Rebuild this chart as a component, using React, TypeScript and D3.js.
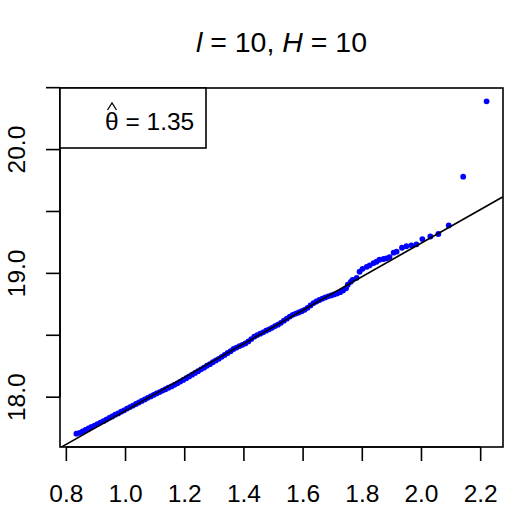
import React from "react";
import * as d3 from "d3";

const xVals = [
  0.834, 0.845, 0.855, 0.865, 0.875, 0.885, 0.895, 0.905, 0.915, 0.925,
  0.935, 0.945, 0.955, 0.965, 0.975, 0.985, 0.995, 1.005, 1.015, 1.025,
  1.035, 1.045, 1.055, 1.065, 1.075, 1.085, 1.095, 1.105, 1.115, 1.125,
  1.135, 1.145, 1.155, 1.165, 1.175, 1.185, 1.195, 1.205, 1.215, 1.225,
  1.235, 1.245, 1.255, 1.265, 1.275, 1.285, 1.295, 1.305, 1.315, 1.325,
  1.335, 1.345, 1.355, 1.365, 1.375, 1.385, 1.395, 1.405, 1.415, 1.425,
  1.435, 1.445, 1.455, 1.465, 1.475, 1.485, 1.495, 1.505, 1.515, 1.525,
  1.535, 1.545, 1.555, 1.565, 1.575, 1.585, 1.595, 1.605, 1.615, 1.625,
  1.635, 1.645, 1.655, 1.665, 1.675, 1.685, 1.695, 1.705, 1.715, 1.725,
  1.735, 1.745,
  1.751, 1.761, 1.767, 1.781, 1.791, 1.801, 1.815, 1.825, 1.838, 1.848,
  1.858, 1.872, 1.882, 1.892, 1.906, 1.916, 1.934, 1.949, 1.966, 1.983,
  2.003, 2.030, 2.057, 2.092, 2.141, 2.220,
];

const yVals = [
  17.705, 17.712, 17.724, 17.735, 17.747, 17.759, 17.771, 17.783, 17.795, 17.806,
  17.819, 17.833, 17.844, 17.859, 17.869, 17.883, 17.894, 17.908, 17.920, 17.932,
  17.945, 17.957, 17.970, 17.982, 17.995, 18.006, 18.018, 18.030, 18.041, 18.053,
  18.064, 18.076, 18.087, 18.100, 18.112, 18.126, 18.139, 18.153, 18.168, 18.182,
  18.196, 18.210, 18.225, 18.238, 18.254, 18.267, 18.282, 18.297, 18.310, 18.326,
  18.341, 18.357, 18.372, 18.389, 18.401, 18.413, 18.423, 18.434, 18.450, 18.469,
  18.489, 18.502, 18.513, 18.524, 18.537, 18.548, 18.560, 18.574, 18.586, 18.601,
  18.618, 18.634, 18.651, 18.665, 18.675, 18.684, 18.694, 18.706, 18.722, 18.741,
  18.760, 18.773, 18.785, 18.796, 18.806, 18.815, 18.822, 18.830, 18.838, 18.848,
  18.861, 18.879,
  18.908, 18.932, 18.948, 18.964, 19.013, 19.037, 19.053, 19.065, 19.083, 19.094,
  19.110, 19.116, 19.122, 19.132, 19.167, 19.175, 19.207, 19.219, 19.227, 19.235,
  19.277, 19.298, 19.318, 19.387, 19.781, 20.390,
];

const xTicks = [0.8, 1.0, 1.2, 1.4, 1.6, 1.8, 2.0, 2.2];
const yTicks = [18.0, 18.5, 19.0, 19.5, 20.0, 20.5];
const yTickLabels = ["18.0", "", "19.0", "", "20.0", ""];

const lineIntercept = 16.536;
const lineSlope = 1.355;
const thetaHatLabel = "1.35";

const W = 509;
const H = 509;
const plotLeft = 60;
const plotRight = 503;
const plotTop = 88;
const plotBottom = 447;
const font = "'Liberation Sans', Arial, Helvetica, sans-serif";

function padExtent(vals: number[]): [number, number] {
  const [lo, hi] = d3.extent(vals) as [number, number];
  const r = hi - lo;
  return [lo - 0.04 * r, hi + 0.04 * r];
}

export default function App() {
  const xDom = padExtent(xVals);
  const yDom = padExtent(yVals);
  const x = d3.scaleLinear().domain(xDom).range([plotLeft, plotRight]);
  const y = d3.scaleLinear().domain(yDom).range([plotBottom, plotTop]);

  const lineData: [number, number][] = [
    [xDom[0], lineIntercept + lineSlope * xDom[0]],
    [xDom[1], lineIntercept + lineSlope * xDom[1]],
  ];
  const linePath = d3
    .line<[number, number]>()
    .x((d) => x(d[0]))
    .y((d) => y(d[1]))(lineData) as string;

  const tickLen = 14;
  const legX = plotLeft;
  const legY = plotTop;
  const legW = 146;
  const legH = 60;
  const textX = legX + 45;
  const textBase = legY + 42;
  const hatCx = textX + 7;

  return (
    <svg
      width={W}
      height={H}
      style={{ position: "absolute", left: 0, top: 0, background: "#fff" }}
      fontFamily={font}
    >
      <rect x={0} y={0} width={W} height={H} fill="#fff" />
      <defs>
        <clipPath id="plotClip">
          <rect x={plotLeft} y={plotTop} width={plotRight - plotLeft} height={plotBottom - plotTop} />
        </clipPath>
      </defs>

      {/* title */}
      <text x={(plotLeft + plotRight) / 2} y={52} textAnchor="middle" fontSize={28.5} fill="#000">
        <tspan fontStyle="italic">l</tspan>
        <tspan> = 10, </tspan>
        <tspan fontStyle="italic">H</tspan>
        <tspan> = 10</tspan>
      </text>

      {/* points */}
      <g fill="#0000ff">
        {xVals.map((xv, i) => (
          <circle key={i} cx={x(xv)} cy={y(yVals[i])} r={2.9} />
        ))}
      </g>

      {/* reference line */}
      <path d={linePath} stroke="#000" strokeWidth={1.6} fill="none" clipPath="url(#plotClip)" />

      {/* box */}
      <rect
        x={plotLeft}
        y={plotTop}
        width={plotRight - plotLeft}
        height={plotBottom - plotTop}
        fill="none"
        stroke="#000"
        strokeWidth={1.6}
      />

      {/* x axis */}
      <g stroke="#000" strokeWidth={1.6}>
        <line x1={x(xTicks[0])} x2={x(xTicks[xTicks.length - 1])} y1={plotBottom} y2={plotBottom} />
        {xTicks.map((t) => (
          <line key={t} x1={x(t)} x2={x(t)} y1={plotBottom} y2={plotBottom + tickLen} />
        ))}
      </g>
      {xTicks.map((t) => (
        <text key={"xl" + t} x={x(t)} y={502} textAnchor="middle" fontSize={24.5} fill="#000">
          {t.toFixed(1)}
        </text>
      ))}

      {/* y axis */}
      <g stroke="#000" strokeWidth={1.6}>
        <line x1={plotLeft} x2={plotLeft} y1={y(yTicks[0])} y2={y(yTicks[yTicks.length - 1])} />
        {yTicks.map((t) => (
          <line key={t} x1={plotLeft - tickLen} x2={plotLeft} y1={y(t)} y2={y(t)} />
        ))}
      </g>
      {yTicks.map((t, i) =>
        yTickLabels[i] ? (
          <text
            key={"yl" + t}
            transform={`translate(25,${y(t)}) rotate(-90)`}
            textAnchor="middle"
            fontSize={24.5}
            fill="#000"
          >
            {yTickLabels[i]}
          </text>
        ) : null
      )}

      {/* legend */}
      <rect x={legX} y={legY} width={legW} height={legH} fill="#fff" stroke="#000" strokeWidth={1.6} />
      <text x={textX} y={textBase} fontSize={24.5} fill="#000">
        {"θ = " + thetaHatLabel}
      </text>
      <path
        d={`M${hatCx - 4.5},${textBase - 20} L${hatCx},${textBase - 27} L${hatCx + 4.5},${textBase - 20}`}
        stroke="#000"
        strokeWidth={1.3}
        fill="none"
      />
    </svg>
  );
}
